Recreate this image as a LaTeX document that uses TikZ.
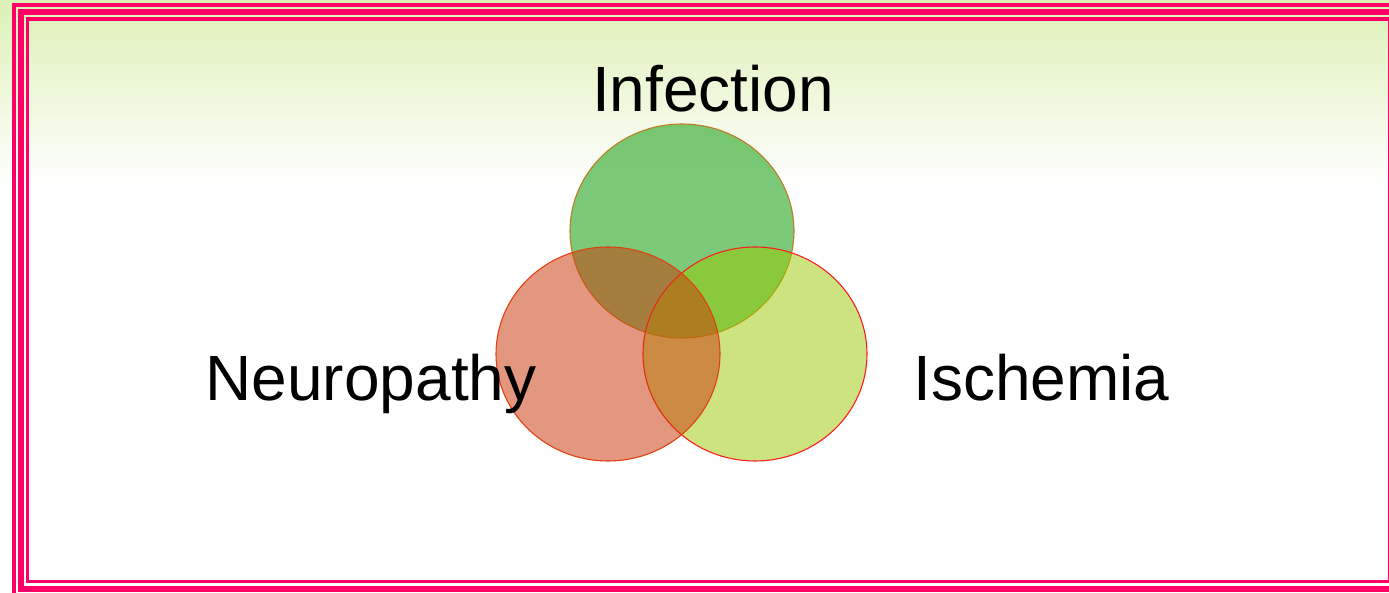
\documentclass[tikz,border=0pt]{standalone}
\usepackage{fontspec}
\setmainfont{Liberation Sans}
\usetikzlibrary{shapes.geometric}
\definecolor{framepink}{RGB}{255,0,102}
\definecolor{bgtop}{RGB}{221,240,182}
\definecolor{grfill}{RGB}{15,158,12}
\definecolor{grline}{RGB}{190,125,35}
\definecolor{yefill}{RGB}{155,201,0}
\definecolor{yeline}{RGB}{250,30,30}
\definecolor{rdfill}{RGB}{205,57,11}
\definecolor{rdline}{RGB}{222,66,18}
\tikzset{
  venn/.style={ellipse, inner sep=0pt, minimum width=224pt, minimum height=214pt, line width=1.1pt},
  lbl/.style={anchor=base, text=black, inner sep=0pt, font=\fontsize{64}{64}\selectfont}
}
\begin{document}
\begin{tikzpicture}[x=1pt,y=-1pt]
\useasboundingbox (0,0) rectangle (1389,593);
\clip (0,0) rectangle (1389,593);
% background
\shade[top color=bgtop, bottom color=white] (0,0) rectangle (1389,186);
\fill[white] (0,185) rectangle (1389,593);
% frame
\draw[framepink, line width=4pt] (14,5.5) rectangle (1420,620);
\draw[framepink, line width=6pt] (21,12) rectangle (1410,588.5);
\draw[framepink, line width=3.5pt] (27.5,19) rectangle (1389.6,581.5);
% circles
\node[venn, draw=grline, fill=grfill, fill opacity=0.55] (cinf) at (682,231) {};
\node[venn, draw=yeline, fill=yefill, fill opacity=0.5] (cisc) at (755,354) {};
\node[venn, draw=rdline, fill=rdfill, fill opacity=0.52] (cneu) at (608,354) {};
% labels
\node[lbl] (linf) at (713,111.7) {Infection};
\node[lbl] (lneu) at (371,400.7) {Neuropathy};
\node[lbl] (lisc) at (1041.5,400.7) {Ischemia};
\end{tikzpicture}
\end{document}
